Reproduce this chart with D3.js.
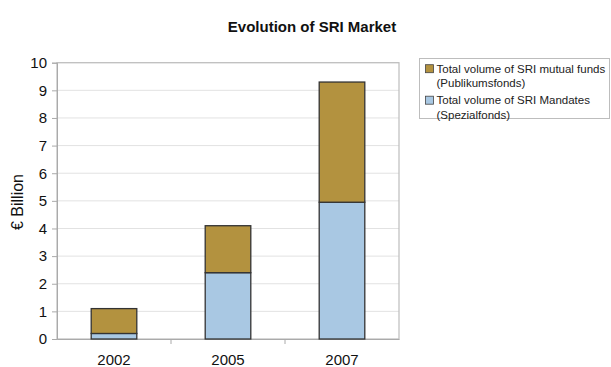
<!DOCTYPE html>
<html><head><meta charset="utf-8">
<script src="https://cdn.jsdelivr.net/npm/d3@7/dist/d3.min.js"></script>
<style>body{margin:0;background:#fff}svg{display:block;font-family:"Liberation Sans",Arial,sans-serif}</style>
</head><body><svg id="c" width="611" height="367"></svg>
<script>
const categories = ["2002", "2005", "2007"];
const mandates = [0.2, 2.4, 4.95];      // Spezialfonds
const mutualFunds = [0.9, 1.7, 4.35];   // Publikumsfonds
const yTicks = [0,1,2,3,4,5,6,7,8,9,10];
const seriesNames = [
  ["Total volume of SRI mutual funds", "(Publikumsfonds)"],
  ["Total volume of SRI Mandates", "(Spezialfonds)"]
];
const colors = {mutual: "#b3923f", mandates: "#a9c8e3"};

const svg = d3.select("#c");
const m = {l: 57, t: 62.7, r: 399, b: 339};
const x = d3.scaleBand().domain(categories).range([m.l, m.r]).paddingInner(0.6).paddingOuter(0.3);
const y = d3.scaleLinear().domain([0, 10]).range([m.b, m.t]);

// gridlines
svg.append("g").selectAll("line").data(yTicks.filter(d => d > 0)).join("line")
  .attr("x1", m.l).attr("x2", m.r).attr("y1", d => y(d)).attr("y2", d => y(d))
  .attr("stroke", "#e2e2e2").attr("stroke-width", 1);
// plot border
svg.append("rect").attr("x", m.l).attr("y", m.t).attr("width", m.r - m.l).attr("height", m.b - m.t)
  .attr("fill", "none").attr("stroke", "#bdbdbd").attr("stroke-width", 1.2);

// y axis
const ya = svg.append("g").attr("transform", `translate(${m.l},0)`)
  .call(d3.axisLeft(y).tickValues(yTicks).tickSize(5).tickPadding(5));
ya.select(".domain").attr("stroke", "#aaa");
ya.selectAll(".tick line").attr("stroke", "#aaa");
ya.selectAll("text").attr("font-size", 15).attr("fill", "#111").attr("font-family", "Liberation Sans, Arial, sans-serif");

// x axis with boundary ticks
const xa = svg.append("g").attr("transform", `translate(0,${m.b})`)
  .call(d3.axisBottom(x).tickSize(0).tickPadding(15));
xa.select(".domain").attr("stroke", "#aaa");
xa.selectAll("text").attr("font-size", 15).attr("fill", "#111").attr("font-family", "Liberation Sans, Arial, sans-serif");
const bounds = categories.slice(1).map(c => x(c) - x.step() * x.paddingInner() / 2);
svg.append("g").selectAll("line").data(bounds).join("line")
  .attr("x1", d => d).attr("x2", d => d).attr("y1", m.b).attr("y2", m.b + 5).attr("stroke", "#aaa");

// stacked bars
const data = categories.map((c, i) => ({cat: c, mandates: mandates[i], mutual: mutualFunds[i]}));
const stack = d3.stack().keys(["mandates", "mutual"])(data);
svg.append("g").selectAll("g").data(stack).join("g")
  .attr("fill", d => colors[d.key])
  .selectAll("rect").data(d => d).join("rect")
  .attr("x", d => x(d.data.cat)).attr("width", x.bandwidth())
  .attr("y", d => y(d[1])).attr("height", d => y(d[0]) - y(d[1]))
  .attr("stroke", "#333").attr("stroke-width", 1.3);

// title
svg.append("text").attr("x", 312).attr("y", 32).attr("text-anchor", "middle")
  .attr("font-size", 15).attr("font-weight", "bold").attr("fill", "#111").text("Evolution of SRI Market");

// y label
svg.append("text").attr("transform", "translate(23,202) rotate(-90)").attr("text-anchor", "middle")
  .attr("font-size", 16).attr("fill", "#111").text("€ Billion");

// legend
const lg = svg.append("g");
lg.append("rect").attr("x", 419.5).attr("y", 58.5).attr("width", 190).attr("height", 60)
  .attr("fill", "#fff").attr("stroke", "#bdbdbd");
const legendColors = [colors.mutual, colors.mandates];
seriesNames.forEach((lines, i) => {
  const y0 = 68.7 + i * 31.5;
  lg.append("rect").attr("x", 425.5).attr("y", y0 - 4).attr("width", 8).attr("height", 8)
    .attr("fill", legendColors[i]).attr("stroke", "#444").attr("stroke-width", 0.8);
  lines.forEach((t, j) => {
    lg.append("text").attr("x", 436.5).attr("y", y0 + 4 + j * 14.5).attr("font-size", 11.5)
      .attr("fill", "#222").text(t);
  });
});
</script></body></html>
